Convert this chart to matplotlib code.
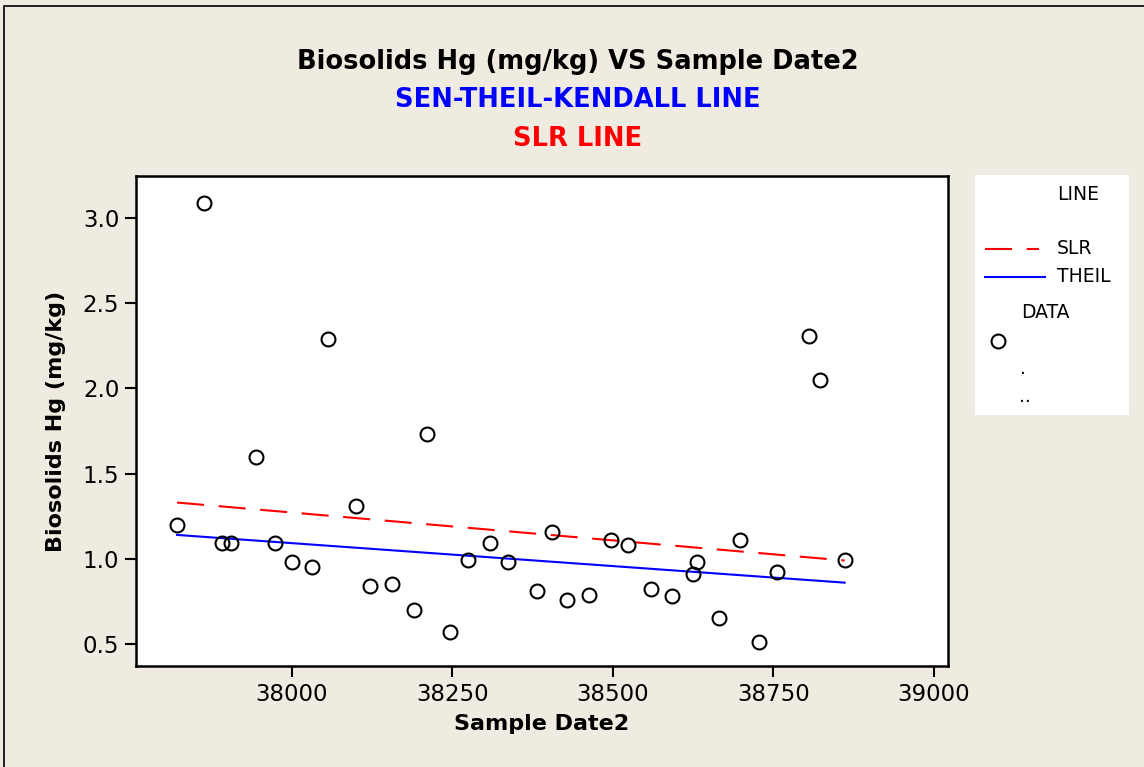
import numpy as np
import matplotlib.pyplot as plt
from matplotlib.patches import Rectangle

# sample dates (serial day numbers) and Hg concentration in biosolids
sample_date = [37821, 37863, 37891, 37905, 37944, 37974, 38000, 38031, 38056,
               38100, 38121, 38156, 38190, 38210, 38246, 38274, 38308, 38336,
               38382, 38405, 38428, 38463, 38497, 38523, 38559, 38592, 38625,
               38631, 38665, 38698, 38727, 38755, 38805, 38823, 38861]
hg = [1.20, 3.09, 1.09, 1.09, 1.60, 1.09, 0.98, 0.95, 2.29,
      1.31, 0.84, 0.85, 0.70, 1.73, 0.57, 0.99, 1.09, 0.98,
      0.81, 1.16, 0.76, 0.79, 1.11, 1.08, 0.82, 0.78, 0.91,
      0.98, 0.65, 1.11, 0.51, 0.92, 2.31, 2.05, 0.99]

# fitted lines, value at first and last sample date
slr_ends = [1.33, 0.99]
theil_ends = [1.14, 0.86]

bg = "#efebe1"
dash = (0, (13, 7))
fig = plt.figure(figsize=(11.44, 7.67), dpi=100, facecolor=bg)

# outer frame
fig.patches.append(Rectangle((4 / 1144, -0.05), 1.2, 1.05 - 6 / 767,
                             transform=fig.transFigure, fill=False,
                             edgecolor="black", linewidth=1.2))

ax = fig.add_axes([0.1189, 0.1317, 0.7098, 0.6388])
ax.set_facecolor("white")

x_ends = [min(sample_date), max(sample_date)]
ax.plot(x_ends, slr_ends, color="red", linestyle=dash, linewidth=1.5)
ax.plot(x_ends, theil_ends, color="blue", linewidth=1.5)
ax.plot(sample_date, hg, linestyle="none", marker="o", markersize=10,
        markerfacecolor="none", markeredgecolor="black", markeredgewidth=1.5)

ax.set_xlim(37757, 39022)
ax.set_ylim(0.371, 3.246)
ax.set_xticks([38000, 38250, 38500, 38750, 39000])
ax.set_yticks([0.5, 1.0, 1.5, 2.0, 2.5, 3.0])
ax.set_yticklabels(["0.5", "1.0", "1.5", "2.0", "2.5", "3.0"])
ax.tick_params(direction="out", length=8, width=1.5, labelsize=16.5, pad=4)
for s in ax.spines.values():
    s.set_linewidth(1.8)

ax.set_xlabel("Sample Date2", fontsize=16, fontweight="bold", labelpad=6)
ax.set_ylabel("Biosolids Hg (mg/kg)", fontsize=16, fontweight="bold", labelpad=12)

fig.text(0.505, 0.919, "Biosolids Hg (mg/kg) VS Sample Date2", ha="center",
         va="center", fontsize=18.5, fontweight="bold", color="black")
fig.text(0.505, 0.870, "SEN-THEIL-KENDALL LINE", ha="center", va="center",
         fontsize=18.5, fontweight="bold", color="blue")
fig.text(0.505, 0.819, "SLR LINE", ha="center", va="center",
         fontsize=18.5, fontweight="bold", color="red")

# legend panel
lg = fig.add_axes([975 / 1144, 1 - 415 / 767, 154 / 1144, 240 / 767])
lg.set_facecolor("white")
lg.set_xlim(0, 154)
lg.set_ylim(240, 0)
lg.set_xticks([])
lg.set_yticks([])
for s in lg.spines.values():
    s.set_visible(False)
lg.text(82, 20, "LINE", ha="left", va="center", fontsize=13.5)
lg.plot([10, 64], [74, 74], color="red", linestyle=dash, linewidth=1.5)
lg.text(82, 74, "SLR", ha="left", va="center", fontsize=13.5)
lg.plot([10, 70], [102, 102], color="blue", linewidth=1.5)
lg.text(82, 102, "THEIL", ha="left", va="center", fontsize=13.5)
lg.text(46, 138, "DATA", ha="left", va="center", fontsize=13.5)
lg.plot([23], [166], linestyle="none", marker="o", markersize=10,
        markerfacecolor="none", markeredgecolor="black", markeredgewidth=1.5)
lg.text(48, 194, ".", ha="center", va="center", fontsize=13.5)
lg.text(50, 221, "..", ha="center", va="center", fontsize=13.5)

fig.savefig("out.png", dpi=100, facecolor=bg)
